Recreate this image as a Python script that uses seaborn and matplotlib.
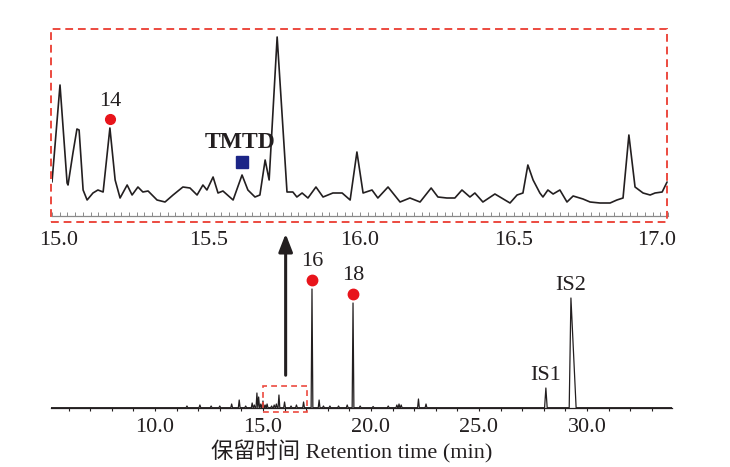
import numpy as np
import pandas as pd
import matplotlib
matplotlib.use("Agg")
import matplotlib.pyplot as plt
import matplotlib.transforms as mtransforms
import seaborn as sns
from matplotlib.patches import Rectangle
from matplotlib.ticker import MultipleLocator

# main chromatogram: peak table (time in min, height in px units)
peak_times = [11.48, 12.08, 12.6, 13.0, 13.55, 13.9, 14.2, 14.5, 14.6, 14.72, 14.8, 14.9,
              15.0, 15.1, 15.19, 15.4, 15.52, 15.62, 15.74, 16.0, 16.3, 16.55, 16.88,
              17.27, 17.6, 17.8, 18.1, 18.5, 18.9, 19.17, 19.5, 20.1, 20.8, 21.2, 21.3,
              21.4, 22.2, 22.55, 28.1, 29.26]
peak_heights = [2, 3, 2, 2, 4, 8, 2, 5, 3, 15, 11, 4,
                7, 3, 4, 2, 3, 4, 13, 6, 2, 3, 6,
                119, 8, 2, 2, 2, 3, 105, 2, 1.5, 2, 3, 4,
                3, 9, 4, 20, 110]
peak_widths = [0.04] * 38 + [0.06, 0.08]

# zoomed window 15-17 min
zoom_time = [15.000, 15.026, 15.049, 15.052, 15.068, 15.081, 15.088, 15.101, 15.114, 15.133,
             15.149, 15.166, 15.188, 15.205, 15.221, 15.244, 15.260, 15.279, 15.295, 15.312,
             15.341, 15.367, 15.393, 15.425, 15.448, 15.471, 15.490, 15.503, 15.523, 15.539,
             15.555, 15.588, 15.617, 15.636, 15.659, 15.675, 15.692, 15.705, 15.731, 15.763,
             15.782, 15.795, 15.812, 15.831, 15.857, 15.880, 15.912, 15.942, 15.968, 15.990,
             16.010, 16.039, 16.058, 16.091, 16.130, 16.162, 16.195, 16.231, 16.253, 16.282,
             16.308, 16.331, 16.357, 16.373, 16.399, 16.438, 16.487, 16.510, 16.529, 16.545,
             16.562, 16.584, 16.594, 16.610, 16.627, 16.649, 16.672, 16.692, 16.724, 16.747,
             16.779, 16.812, 16.834, 16.854, 16.873, 16.893, 16.919, 16.942, 16.958, 16.981,
             16.997]
zoom_signal = [34, 131, 33, 31, 63, 87, 86, 26, 16, 23,
               26, 24, 88, 36, 18, 31, 21, 29, 24, 25,
               16, 14, 21, 29, 28, 21, 31, 26, 39, 23,
               25, 16, 41, 26, 19, 21, 56, 36, 179, 24,
               24, 19, 23, 18, 29, 19, 23, 23, 16, 64,
               23, 26, 18, 29, 14, 18, 14, 28, 19, 18,
               18, 26, 19, 23, 14, 22, 13, 21, 23, 51,
               36, 23, 19, 26, 22, 26, 14, 20, 17, 14,
               13, 13, 16, 18, 81, 29, 23, 21, 23, 24,
               34]
zoom_ticks = [15.0, 15.5, 16.0, 16.5, 17.0]

main_labels = ["16", "18", "IS1", "IS2"]
main_label_times = [17.27, 19.17, 28.1, 29.26]
marked_main = ["16", "18"]

INK = "#231f20"
RED = "#e8141b"
BOX = "#ec4a3f"

sns.set_theme(style="white")
plt.rcParams["font.family"] = ["Liberation Serif", "Noto Sans CJK SC"]
plt.rcParams["axes.unicode_minus"] = False

# build the main trace as narrow spikes on a flat baseline
pts = [(5.0, 0.3)]
for t, h, w in zip(peak_times, peak_heights, peak_widths):
    tail = 3 if t > 29 else 1
    pts += [(t - w, 0.3), (t, h), (t + w * tail, 0.3)]
pts.append((34.5, 0.3))
main_df = pd.DataFrame(pts, columns=["time", "signal"]).sort_values("time")
zoom_df = pd.DataFrame({"time": zoom_time, "signal": zoom_signal})

fig = plt.figure(figsize=(7.3, 4.67), dpi=100)

# ---- main chromatogram ----
ax = fig.add_axes([51 / 730, 59 / 467, 621 / 730, 130 / 467])
sns.lineplot(data=main_df, x="time", y="signal", ax=ax, color=INK, lw=0.9,
             sort=False, estimator=None)
ax.set_xlim(5.185, 33.94)
ax.set_ylim(0, 130)
for s in ["top", "right", "left"]:
    ax.spines[s].set_visible(False)
ax.spines["bottom"].set_color(INK)
ax.spines["bottom"].set_linewidth(0.9)
ax.set_yticks([])
ax.set_ylabel("")
ax.xaxis.set_major_locator(MultipleLocator(5))
ax.xaxis.set_minor_locator(MultipleLocator(1))
ax.xaxis.set_major_formatter(lambda v, p: f"{v:.1f}")
ax.tick_params(axis="x", which="both", direction="out", length=2.5, width=0.8,
               color=INK, labelsize=16, labelcolor=INK, pad=5, bottom=True)
ax.set_xlabel("保留时间 Retention time (min)", fontsize=16, color=INK)
ax.xaxis.set_label_coords(0.485, -0.245)

for lab, t in zip(main_labels, main_label_times):
    h = peak_heights[peak_times.index(t)]
    if lab in marked_main:
        ax.plot(t, h + 9, "o", ms=7.5, color=RED, clip_on=False, zorder=5)
        ax.text(t, h + 27, lab, ha="center", va="center", fontsize=16, color=INK,
                clip_on=False)
    else:
        ax.text(t, h + 13, lab, ha="center", va="center", fontsize=16, color=INK,
                clip_on=False)

# small dashed box marking the zoomed window
ax.add_patch(Rectangle((15.0, -4), 2.05, 26, fill=False, ec=BOX, lw=1.2,
                       ls=(0, (3.5, 2.5)), clip_on=False, zorder=4))
ax.annotate("", xy=(16.05, 177), xytext=(16.05, 30),
            arrowprops=dict(arrowstyle="-|>,head_length=0.9,head_width=0.35",
                            color=INK, lw=2.2), annotation_clip=False)

# ---- zoomed inset ----
ins = fig.add_axes([52 / 730, (467 - 216) / 467, 616 / 730, 187 / 467])
sns.lineplot(data=zoom_df, x="time", y="signal", ax=ins, color=INK, lw=1.2,
             sort=False, estimator=None)
ins.set_xlim(15.0, 17.0)
ins.set_ylim(0, 187)
for s in ["top", "right", "left"]:
    ins.spines[s].set_visible(False)
ins.spines["bottom"].set_color("#8a8a8a")
ins.spines["bottom"].set_linewidth(0.9)
ins.set_yticks([])
ins.set_xlabel("")
ins.set_ylabel("")
ins.xaxis.set_major_locator(MultipleLocator(0.5))
ins.xaxis.set_minor_locator(MultipleLocator(0.025))
ins.tick_params(axis="x", which="both", direction="in", length=3, width=0.7,
                color="#8a8a8a", labelbottom=False, bottom=True)
ins.patch.set_alpha(0)

# inset tick labels: the end ones sit a little inside the axis in the reference
label_shift = [0.07, 0.03, 0.0, 0.0, -0.11]
for v, dx in zip(zoom_ticks, label_shift):
    tr = ins.get_xaxis_transform() + mtransforms.ScaledTranslation(dx, -0.145, fig.dpi_scale_trans)
    ins.text(v, 0, f"{v:.1f}", transform=tr, ha="center", va="top",
             fontsize=16, color=INK)

ins.add_patch(Rectangle((14.997, -6), 2.0, 193, fill=False, ec=BOX, lw=1.4,
                        ls=(0, (4, 2.5)), clip_on=False, zorder=4))

ins.plot(15.188, 97, "o", ms=7, color=RED, clip_on=False, zorder=5)
ins.text(15.188, 114, "14", ha="center", va="center", fontsize=16, color=INK)
ins.plot(15.617, 54, "s", ms=9, color="#1c2587", clip_on=False, zorder=5)
ins.text(15.61, 74, "TMTD", ha="center", va="center", fontsize=17,
         fontweight="bold", color=INK)

fig.savefig("out.png", dpi=100)
